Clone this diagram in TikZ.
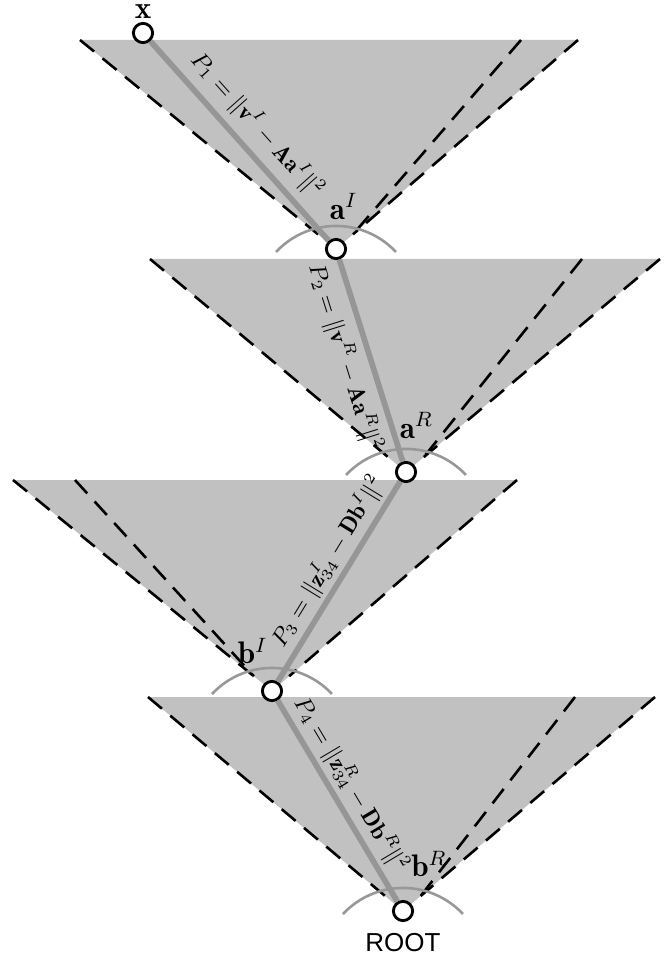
\documentclass[tikz,border=0pt]{standalone}
\usepackage{amsmath,amssymb}
\usepackage{fontspec}
\newfontfamily\rootfont{Liberation Sans}
\usepackage{tikz}
\usetikzlibrary{positioning,calc}
\pgfdeclarelayer{background}
\pgfsetlayers{background,main}
\definecolor{conegray}{RGB}{192,193,192}
\definecolor{walkgray}{RGB}{150,150,150}
\definecolor{halogray}{RGB}{152,152,152}

\begin{document}
\begin{tikzpicture}[
    x=0.385pt, y=-0.385pt,
    vert/.style={circle, draw=black, fill=white, line width=1.1pt, minimum size=7.4pt, inner sep=0pt},
    lbl/.style={inner sep=0pt, font=\large},
    cone/.style={fill=conegray},
    rim/.style={draw=black, line width=1pt, dash pattern=on 7pt off 4.2pt},
    walk/.style={draw=walkgray, line width=2.2pt},
    halo/.style={draw=halogray, line width=1pt},
    cost/.style={sloped, inner sep=0pt, font=\small}
]
\useasboundingbox (0,0) rectangle (669,957);

\node[vert] (x) at (143,33) {};
\node[vert] (aI) at (336,249) {};
\node[vert] (aR) at (406,472) {};
\node[vert] (bI) at (272,691) {};
\node[vert] (root) at (403,911) {};

\node[lbl, above=1pt of x] (xlbl) {$\mathbf{x}$};
\node[lbl, above=7pt of aI, xshift=3pt] (aIlbl) {$\mathbf{a}^I$};
\node[lbl, above=8.5pt of aR, xshift=4pt] (aRlbl) {$\mathbf{a}^R$};
\node[lbl, above left=7.3pt and -1.5pt of bI] (bIlbl) {$\mathbf{b}^I$};
\node[lbl, above right=10pt and 0pt of root] (bRlbl) {$\mathbf{b}^R$};
\node[lbl, below=4pt of root, font=\rootfont] (rootlbl) {ROOT};

\begin{pgfonlayer}{background}
% cone under a^I
\fill[cone] (aI.center) -- (80,40) -- (578,40) -- cycle;
\draw[rim] (80,40) -- ($(80,40)!0.93!(aI.center)$);
\draw[rim] (578,40) -- ($(578,40)!0.93!(aI.center)$);
\draw[rim] (521,40) -- ($(578,40)!0.93!(aI.center)$);
% cone under a^R
\fill[cone] (aR.center) -- (150,259) -- (660,259) -- cycle;
\draw[rim] (150,259) -- ($(150,259)!0.93!(aR.center)$);
\draw[rim] (660,259) -- ($(660,259)!0.93!(aR.center)$);
\draw[rim] (582,259) -- ($(660,259)!0.93!(aR.center)$);
% cone under b^I
\fill[cone] (bI.center) -- (13,480) -- (517,480) -- cycle;
\draw[rim] (13,480) -- ($(13,480)!0.93!(bI.center)$);
\draw[rim] (517,480) -- ($(517,480)!0.93!(bI.center)$);
\draw[rim] (75,480) -- ($(13,480)!0.93!(bI.center)$);
% cone under the root
\fill[cone] (root.center) -- (148,697) -- (655,697) -- cycle;
\draw[rim] (148,697) -- ($(148,697)!0.93!(root.center)$);
\draw[rim] (655,697) -- ($(655,697)!0.93!(root.center)$);
\draw[rim] (575,697) -- ($(655,697)!0.93!(root.center)$);
% arcs
\draw[halo] ([shift={(-60,3)}]aI.center) arc[start angle=223, end angle=317, radius=82];
\draw[halo] ([shift={(-60,3)}]aR.center) arc[start angle=223, end angle=317, radius=82];
\draw[halo] ([shift={(-60,3)}]bI.center) arc[start angle=223, end angle=317, radius=82];
\draw[halo] ([shift={(-60,3)}]root.center) arc[start angle=223, end angle=317, radius=82];
\end{pgfonlayer}

\draw[walk] (x) -- node[cost, pos=0.5, above=3pt] {$P_1 = \|\mathbf{v}^I - \mathbf{A}\mathbf{a}^I\|^2$} (aI);
\draw[walk] (aI) -- node[cost, pos=0.45, below=3pt] {$P_2 = \|\mathbf{v}^R - \mathbf{A}\mathbf{a}^R\|^2$} (aR);
\draw[walk] (aR) -- node[cost, pos=0.45, above=1.5pt] {$P_3 = \|\mathbf{z}_{34}^I - \mathbf{D}\mathbf{b}^I\|^2$} (bI);
\draw[walk] (bI) -- node[cost, pos=0.47, above=1.5pt] {$P_4 = \|\mathbf{z}_{34}^R - \mathbf{D}\mathbf{b}^R\|^2$} (root);

\end{tikzpicture}
\end{document}
